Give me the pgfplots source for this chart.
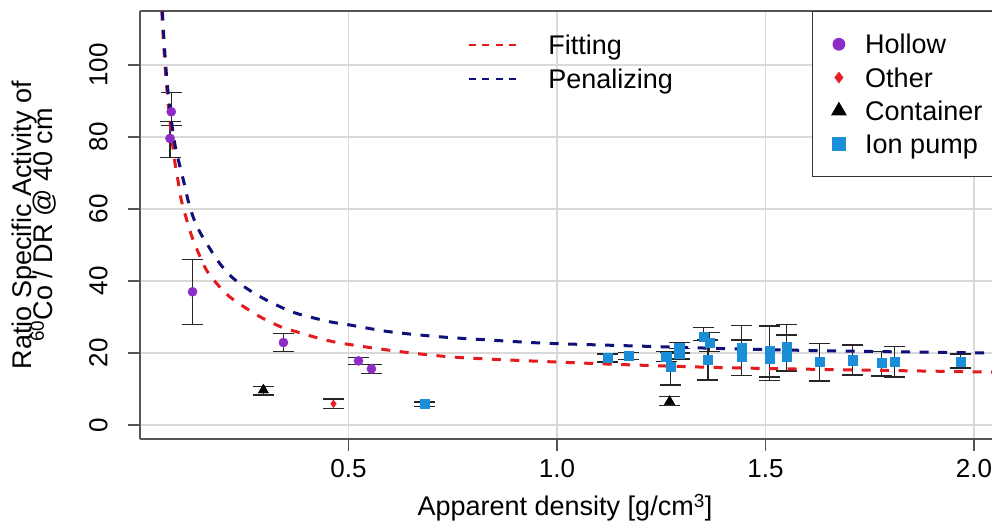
\documentclass[border=0pt]{standalone}
\usepackage{fontspec}
\setmainfont{Liberation Sans}
\usepackage{pgfplots}
\pgfplotsset{compat=1.18}
\definecolor{hollowc}{HTML}{8E2CC8}
\definecolor{otherc}{HTML}{E8202A}
\definecolor{ionc}{HTML}{1A8FD8}
\definecolor{fitc}{HTML}{E41A1C}
\definecolor{penc}{HTML}{10107A}
\definecolor{framec}{HTML}{555555}
\definecolor{gridc}{HTML}{D9D9D9}
\pgfplotsset{
  errstyle/.style={error bars/.cd, y dir=both, y explicit,
    error bar style={line width=1.2bp, black!85},
    error mark options={rotate=90, mark size=10.5bp, line width=1.2bp, black!85}},
  ptlegend/.style={legend image code/.code={\draw[##1] plot coordinates {(12bp,0bp)}; \path (0bp,-1bp) (24bp,1bp);}},
  lnlegend/.style={legend image code/.code={\draw[##1] (0bp,0bp) -- (50bp,0bp);}},
}
\begin{document}
\begin{tikzpicture}
\useasboundingbox (0,0) rectangle (992bp,522bp);
\begin{axis}[
  at={(140bp,83bp)}, anchor=south west,
  scale only axis, width=852bp, height=428bp,
  xmin=0, xmax=2.0432, ymin=-3.9, ymax=115,
  axis lines*=left,
  axis line style={framec, line width=1.3bp, -},
  tick align=outside, major tick length=12bp,
  tick style={framec, line width=1.3bp},
  grid=major, major grid style={gridc, line width=1.2bp},
  xtick={0.5,1.0,1.5,2.0}, xticklabels={0.5,1.0,1.5,2.0},
  ytick={0,20,40,60,80,100}, yticklabels={0,20,40,60,80,100},
  extra y ticks={115}, extra y tick labels={},
  extra y tick style={major tick length=0pt, major grid style={framec, line width=1.3bp}},
  /pgf/number format/assume math mode=true,
  xticklabel style={font=\fontsize{26bp}{30bp}\selectfont, anchor=base, yshift=-26bp, inner sep=0pt},
  yticklabel style={font=\fontsize{26bp}{30bp}\selectfont, xshift=-20.5bp, rotate=90, anchor=base, inner sep=0pt},
  xlabel={Apparent density [g/cm\textsuperscript{3}]},
  xlabel style={at={(axis description cs:0.4988,-0.1799)}, anchor=base, font=\fontsize{27bp}{32bp}\selectfont, inner sep=0pt},
  ylabel={\raisebox{0bp}[19bp][0bp]{Ratio Specific Activity of}\\\raisebox{0bp}[19bp][0bp]{\textsuperscript{60}Co / DR @ 40 cm}},
  ylabel style={at={(axis description cs:-0.1258,0.5)}, anchor=center, align=center, font=\fontsize{27bp}{21.3bp}\selectfont, inner sep=0pt},
  legend cell align=left,
  legend style={overlay, at={(0.7884,1)}, anchor=north west, draw=black!80, line width=1.2bp, fill=white,
    inner xsep=14bp, inner ysep=23bp, row sep=14bp, column sep=13.7bp,
    font=\fontsize{27bp}{32bp}\selectfont,
    nodes={inner sep=0pt, text height=19.3bp, text depth=0pt, anchor=west}},
]
\addlegendimage{ptlegend, only marks, mark=*, mark size=5.8bp, draw=hollowc, fill=hollowc}
\addlegendentry{Hollow}
\addlegendimage{ptlegend, only marks, mark=diamond*, mark size=5bp, draw=otherc, fill=otherc}
\addlegendentry{Other}
\addlegendimage{ptlegend, only marks, mark=triangle*, mark size=8bp, draw=black, fill=black}
\addlegendentry{Container}
\addlegendimage{ptlegend, only marks, mark=square*, mark size=6.5bp, draw=ionc, fill=ionc}
\addlegendentry{Ion pump}

% Hollow
\addplot[forget plot, only marks, mark=*, mark size=4.6bp, draw=hollowc, fill=hollowc, errstyle] coordinates {
(0.075,87) += (0,5.4) -= (0,3.7)
(0.072,79.6) += (0,4.7) -= (0,5.3)
(0.126,37) += (0,9) -= (0,9.2)
(0.344,22.9) += (0,2.6) -= (0,2.4)
(0.524,17.8) += (0,1) -= (0,1)
(0.555,15.6) += (0,1.2) -= (0,1.2)
};
% Other
\addplot[forget plot, only marks, mark=diamond*, mark size=3.8bp, draw=otherc, fill=otherc, errstyle] coordinates {
(0.464,5.9) += (0,1.3) -= (0,1.4)
};
% Container
\addplot[forget plot, only marks, mark=triangle*, mark size=6bp, draw=black, fill=black, errstyle] coordinates {
(0.296,9.7) += (0,0.9) -= (0,1.4)
(1.27,6.5) += (0,1.3) -= (0,1.1)
};
% Ion pump
\addplot[forget plot, only marks, mark=square*, mark size=4.6bp, draw=ionc, fill=ionc, errstyle] coordinates {
(0.682,5.8) += (0,0.6) -= (0,0.6)
(1.121,18.6) += (0,1.1) -= (0,1.1)
(1.171,19.2) += (0,1.0) -= (0,1.0)
(1.262,19.0) += (0,1.4) -= (0,1.4)
(1.272,16.1) += (0,4.1) -= (0,5.0)
(1.293,21.5) += (0,1.4) -= (0,1.5)
(1.293,19.8) += (0,1.5) -= (0,1.5)
(1.351,24.5) += (0,2.6) -= (0,1.1)
(1.366,22.9) += (0,2.7) -= (0,2.6)
(1.362,18.2) += (0,5.4) -= (0,5.7)
(1.442,21.3) += (0,6.3) -= (0,7.6)
(1.442,18.9) += (0,4.7) -= (0,5.2)
(1.51,20.6) += (0,6.9) -= (0,7.3)
(1.51,18.3) += (0,9.2) -= (0,6.0)
(1.551,21.7) += (0,6.3) -= (0,6.7)
(1.551,19.1) += (0,5.9) -= (0,4.1)
(1.63,17.5) += (0,5.2) -= (0,5.3)
(1.709,18.0) += (0,4.2) -= (0,4.1)
(1.778,17.2) += (0,3.1) -= (0,3.6)
(1.81,17.5) += (0,4.2) -= (0,4.2)
(1.968,17.5) += (0,2.2) -= (0,1.7)
};
% Fitting
\addplot[forget plot, no marks, fitc, line width=3bp, dash pattern=on 9bp off 9.5bp, smooth] coordinates {
(0.050,120) (0.055,109) (0.060,100) (0.065,92.5) (0.070,86.5) (0.075,81) (0.083,73.5) (0.091,68)
(0.099,62.5) (0.111,57.4) (0.123,52.8) (0.139,48.1) (0.159,43.1) (0.183,39.4) (0.215,35.6)
(0.255,32.4) (0.295,29.6) (0.343,27.0) (0.375,25.9) (0.438,23.8) (0.494,22.5) (0.622,20.4)
(0.758,18.8) (0.974,17.6) (1.2,16.6) (1.41,15.9) (1.7,15.3) (2.1,14.6)
};
% Penalizing
\addplot[forget plot, no marks, penc, line width=3bp, dash pattern=on 9bp off 9.5bp, smooth] coordinates {
(0.051,120) (0.056,110) (0.061,101) (0.066,94) (0.072,87.5) (0.080,80.5) (0.087,76) (0.095,72.2)
(0.107,66.6) (0.115,62.5) (0.127,57.9) (0.143,53.7) (0.167,49.1) (0.191,44.9) (0.219,41.2)
(0.255,38) (0.295,35.2) (0.335,32.9) (0.375,31) (0.454,28.7) (0.502,27.8) (0.598,25.9)
(0.718,24.5) (0.838,23.6) (0.974,22.7) (1.2,21.9) (1.44,21.1) (1.7,20.5) (2.1,19.9)
};
\end{axis}
\begin{axis}[
  at={(140bp,83bp)}, anchor=south west,
  scale only axis, width=852bp, height=428bp,
  xmin=0, xmax=2.0432, ymin=-3.9, ymax=115,
  hide axis,
  legend cell align=left,
  legend style={at={(0.385,0.9431)}, anchor=north west, draw=none, fill=none,
    inner xsep=0pt, inner ysep=0pt, row sep=14.7bp, column sep=28.7bp,
    font=\fontsize{27bp}{32bp}\selectfont,
    nodes={inner sep=0pt, text height=19.3bp, text depth=0pt, anchor=west}},
]
\addlegendimage{lnlegend, fitc, line width=1.5bp, dash pattern=on 7bp off 6.3bp}
\addlegendentry{Fitting}
\addlegendimage{lnlegend, penc, line width=1.5bp, dash pattern=on 7bp off 6.3bp}
\addlegendentry{Penalizing}
\end{axis}
\end{tikzpicture}
\end{document}
